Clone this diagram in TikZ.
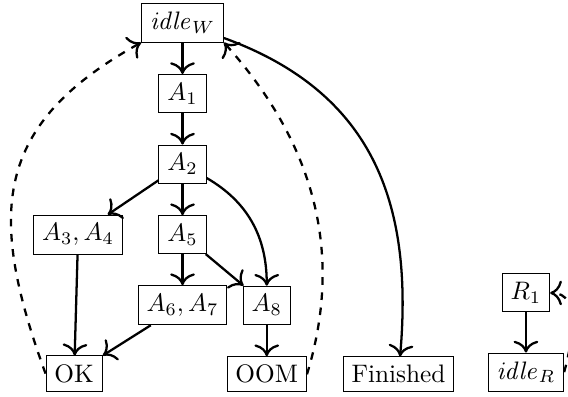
\documentclass[tikz,border=0pt]{standalone}
\usepackage{tikz}
\usetikzlibrary{positioning,arrows.meta}
\tikzstyle{arrow} = [line width=0.9pt, ->, >={To[scale=1.3]}]
\tikzstyle{back} = [line width=0.9pt, ->, >={To[scale=1.3]}, dashed]

\begin{document}
\begin{tikzpicture}[
    state/.style={
        rectangle,
        draw=black,
        inner sep=3.33pt
    },
    node distance=0.98cm and 1cm,
    on grid
    ]
    \useasboundingbox (0,0) rectangle (7.889,-5.514);

    % worker states
    \node[state] (idlew) at (2.535,-0.319) {$\mathit{idle}_W$};
    \node[state, below=of idlew] (a1) {$A_1$};
    \node[state, below=of a1] (a2) {$A_2$};
    \node[state, below=of a2] (a5) {$A_5$};
    \node[state, left=1.45cm of a5] (a34) {$A_3, A_4$};
    \node[state, below=of a5] (a67) {$A_6, A_7$};
    \node[state, right=1.17cm of a67] (a8) {$A_8$};

    % end states
    \node[state, below left=1.93cm and 0.055cm of a34] (ok) {OK};
    \node[state, below=0.96cm of a8] (oom) {OOM};
    \node[state, right=1.83cm of oom] (fin) {Finished};

    % reader states
    \node[state, right=1.77cm of fin, yshift=0.03cm] (idler) {$\mathit{idle}_R$};
    \node[state, above=1.1cm of idler] (r1) {$R_1$};

    \draw[arrow] (idlew) -- (a1);
    \draw[arrow] (a1) -- (a2);
    \draw[arrow] (a2) -- (a34);
    \draw[arrow] (a2) -- (a5);
    \draw[arrow] (a2) to[out=-30, in=90] (a8);
    \draw[arrow] (a5) -- (a67);
    \draw[arrow] (a5) -- (a8);
    \draw[arrow] (a34) -- (ok);
    \draw[arrow] (a67) -- (ok);
    \draw[arrow] (a8) -- (oom);
    \draw[arrow] (idlew) to[out=-20, in=85, looseness=1.1] (fin);
    \draw[arrow] (r1) -- (idler);

    % back to idle
    \draw[back] (ok.west) to[out=110, in=209, looseness=1.26] (idlew.south west);
    \draw[back] (oom.east) to[out=73, in=-48, looseness=0.98] (idlew.south east);
    \draw[back] (idler.east) to[out=75, in=0] (r1.east);
\end{tikzpicture}
\end{document}
